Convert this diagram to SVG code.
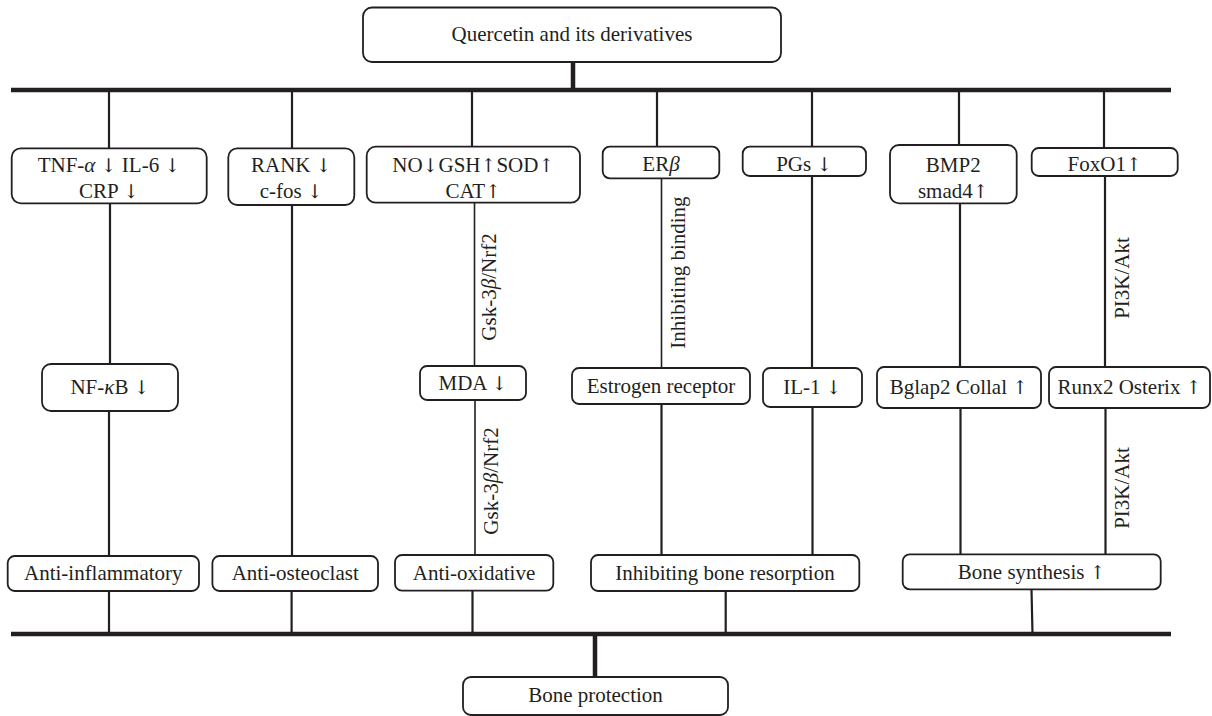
<svg xmlns="http://www.w3.org/2000/svg" width="1212" height="716" viewBox="0 0 1212 716">
<style>
.box{fill:#fff;stroke:#231f20;stroke-width:1.8}
.t{font-family:"Liberation Serif","DejaVu Serif","Times New Roman",serif;font-size:21px;fill:#231f20;text-anchor:middle}
.a{font-family:"DejaVu Serif","DejaVu Sans",serif;font-size:19px;fill:#231f20}
.bus{stroke:#231f20;stroke-width:4.5;fill:none}
.ln{stroke:#231f20;stroke-width:2.2;fill:none}
.thin{stroke:#231f20;stroke-width:1.6;fill:none}
.i{font-style:italic}
</style>
<rect width="1212" height="716" fill="#fff"/>
<g id="connectors">
<path class="bus" d="M11,90 H1171 M11,634 H1171"/>
<path class="bus" d="M573,62 V90 M595,634 V677"/>
<path class="ln" d="M109,90 V148.3 M292,90 V148.3 M472,90 V146.7 M657,90 V146.7 M812,90 V146.7 M959,90 V145 M1104,90 V148"/>
<path class="ln" d="M110,203.3 V364 M292,205 V556 M812,176 V368 M960,203.3 V367 M1105,176 V367"/>
<path class="thin" d="M474.5,202.7 V366 M661.5,178.3 V368 M475,400 V555"/>
<path class="ln" d="M109,411 V556 M661.5,404 V555 M812.5,407 V555 M960.5,408 V554.3 M1105.5,408 V554.3"/>
<path class="ln" d="M109,591 V634 M291.6,591 V634 M472.5,590.7 V634 M725.7,591 V634 M1031.5,589.3 L1032.5,634"/>
<text class="t" transform="translate(496,287) rotate(-90)">Gsk-3<tspan class="i">β</tspan>/Nrf2</text>
<text class="t" transform="translate(498,481) rotate(-90)">Gsk-3<tspan class="i">β</tspan>/Nrf2</text>
<text class="t" transform="translate(685,272.5) rotate(-90)">Inhibiting binding</text>
<text class="t" transform="translate(1128.5,278) rotate(-90)">PI3K/Akt</text>
<text class="t" transform="translate(1129,488) rotate(-90)">PI3K/Akt</text>
</g>
<g id="quercetin"><rect class="box" x="363" y="7.5" width="418" height="54.5" rx="9"/><text class="t" x="572" y="41">Quercetin and its derivatives</text></g>
<g id="tnf"><rect class="box" x="11.7" y="148.3" width="195" height="55" rx="9"/><text class="t" x="109" y="171.5">TNF-<tspan class="i">α</tspan> <tspan class="a">↓</tspan> IL-6 <tspan class="a">↓</tspan></text><text class="t" x="109" y="197.5">CRP <tspan class="a">↓</tspan></text></g>
<g id="rank"><rect class="box" x="228.3" y="148.3" width="126" height="56.7" rx="9"/><text class="t" x="291.3" y="171.5">RANK <tspan class="a">↓</tspan></text><text class="t" x="291.3" y="197.5">c-fos <tspan class="a">↓</tspan></text></g>
<g id="no"><rect class="box" x="366.7" y="146.7" width="213.3" height="56" rx="9"/><text class="t" x="473.3" y="171.5">NO<tspan class="a">↓</tspan>GSH<tspan class="a">↑</tspan>SOD<tspan class="a">↑</tspan></text><text class="t" x="473.3" y="197.5">CAT<tspan class="a">↑</tspan></text></g>
<g id="erb"><rect class="box" x="602.7" y="146.7" width="116.6" height="31.6" rx="7"/><text class="t" x="661" y="171">ER<tspan class="i">β</tspan></text></g>
<g id="pgs"><rect class="box" x="742.7" y="146.7" width="123.3" height="29.3" rx="7"/><text class="t" x="804.3" y="170.5">PGs <tspan class="a">↓</tspan></text></g>
<g id="bmp2"><rect class="box" x="890" y="145" width="126.7" height="58.3" rx="9"/><text class="t" x="953.3" y="171.5">BMP2</text><text class="t" x="953.3" y="198">smad4<tspan class="a">↑</tspan></text></g>
<g id="foxo1"><rect class="box" x="1031.7" y="148" width="146" height="28" rx="7"/><text class="t" x="1104.7" y="170.5">FoxO1<tspan class="a">↑</tspan></text></g>
<g id="nfkb"><rect class="box" x="42" y="364" width="136" height="47" rx="9"/><text class="t" x="110" y="394">NF-<tspan class="i">κ</tspan>B <tspan class="a">↓</tspan></text></g>
<g id="mda"><rect class="box" x="420" y="366" width="106" height="34" rx="7"/><text class="t" x="473" y="390">MDA <tspan class="a">↓</tspan></text></g>
<g id="estrogen"><rect class="box" x="572" y="368" width="178" height="36" rx="7"/><text class="t" x="661" y="392.5">Estrogen receptor</text></g>
<g id="il1"><rect class="box" x="763" y="368" width="99" height="39" rx="7"/><text class="t" x="812.5" y="394">IL-1 <tspan class="a">↓</tspan></text></g>
<g id="bglap2"><rect class="box" x="877" y="367" width="164" height="41" rx="7"/><text class="t" x="959" y="394">Bglap2 Collal <tspan class="a">↑</tspan></text></g>
<g id="runx2"><rect class="box" x="1049" y="367" width="161" height="41" rx="7"/><text class="t" x="1129.5" y="394">Runx2 Osterix <tspan class="a">↑</tspan></text></g>
<g id="antiinflam"><rect class="box" x="7.7" y="556" width="191.3" height="35" rx="7"/><text class="t" x="103.3" y="580">Anti-inflammatory</text></g>
<g id="antiosteo"><rect class="box" x="212.4" y="556" width="165.6" height="35" rx="7"/><text class="t" x="295.2" y="580">Anti-osteoclast</text></g>
<g id="antioxid"><rect class="box" x="395" y="555" width="158.3" height="35.7" rx="7"/><text class="t" x="474" y="580">Anti-oxidative</text></g>
<g id="inhibiting"><rect class="box" x="591" y="555" width="268.3" height="36" rx="7"/><text class="t" x="725" y="580">Inhibiting bone resorption</text></g>
<g id="bonesynth"><rect class="box" x="902.7" y="554.3" width="258" height="35" rx="7"/><text class="t" x="1031.7" y="579.3">Bone synthesis <tspan class="a">↑</tspan></text></g>
<g id="boneprot"><rect class="box" x="463" y="677" width="265" height="38" rx="8"/><text class="t" x="595.5" y="702">Bone protection</text></g>
</svg>
